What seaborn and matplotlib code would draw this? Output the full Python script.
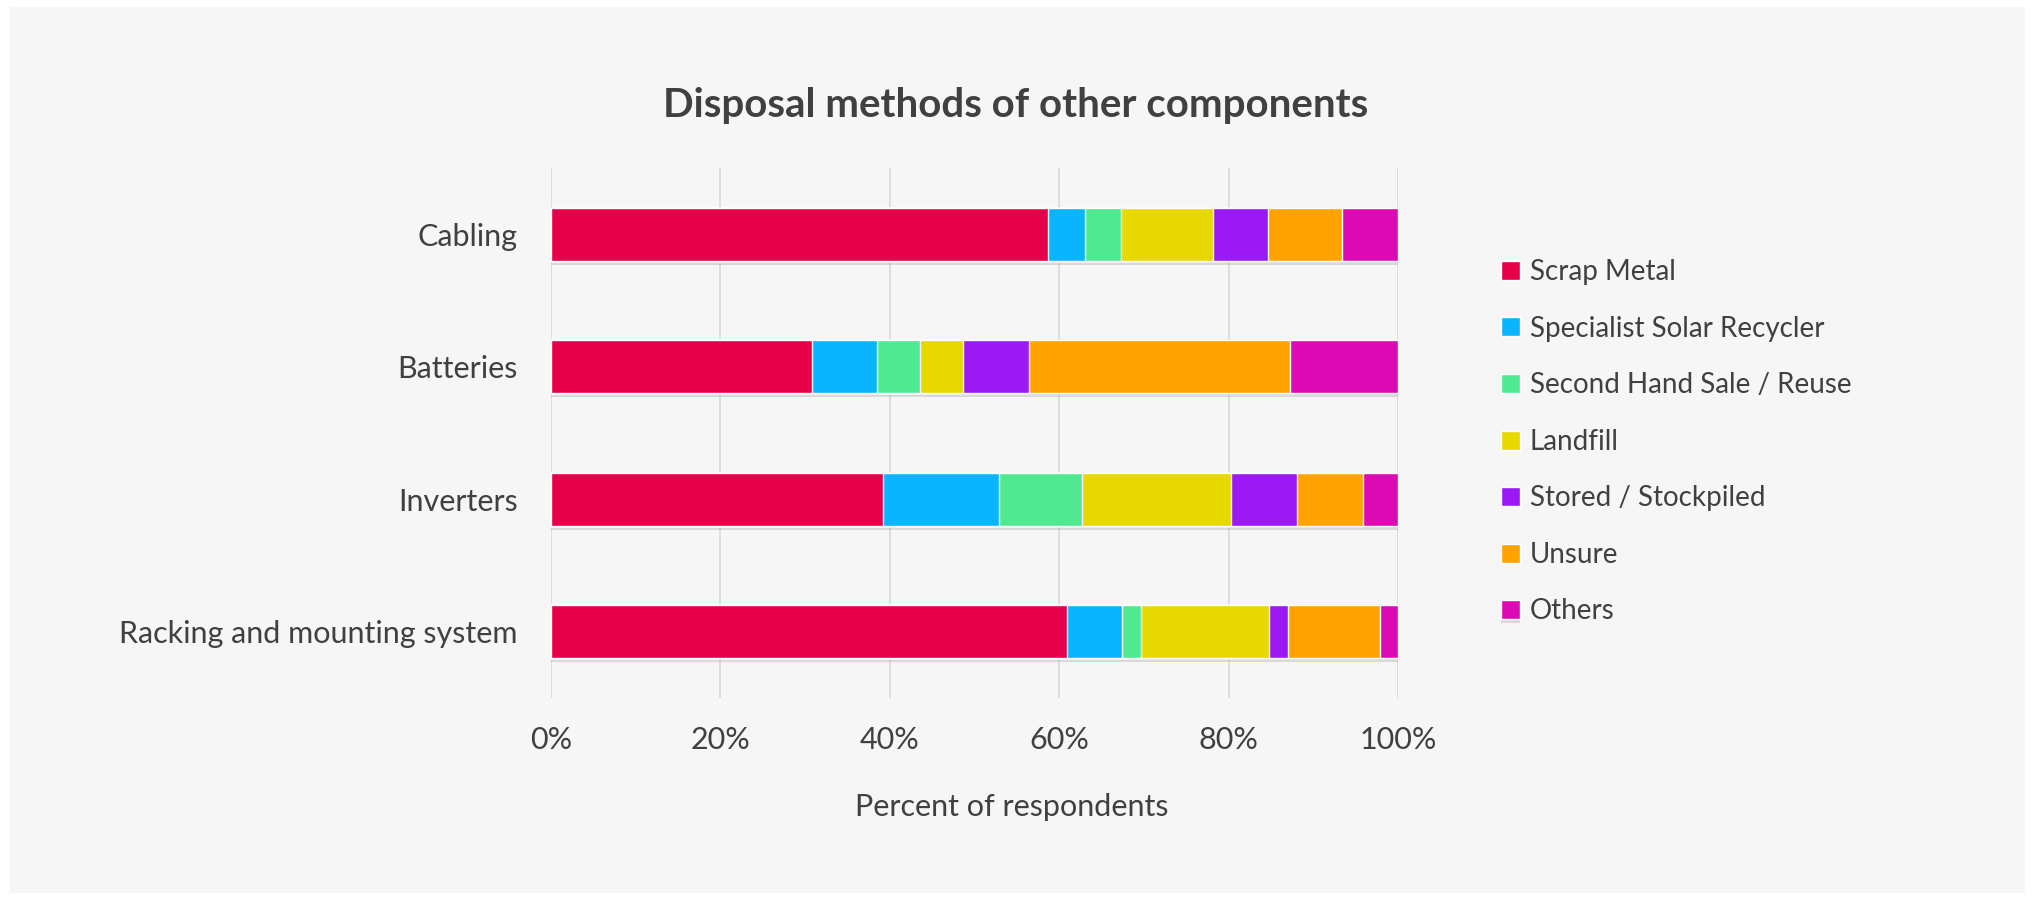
import matplotlib
matplotlib.use("Agg")
import matplotlib.pyplot as plt
import matplotlib.patheffects as pe
from matplotlib.patches import Rectangle
import seaborn as sns
import pandas as pd
import numpy as np

# data (percent of respondents)
components = ["Cabling", "Batteries", "Inverters", "Racking and mounting system"]
methods = ["Scrap Metal", "Specialist Solar Recycler", "Second Hand Sale / Reuse",
           "Landfill", "Stored / Stockpiled", "Unsure", "Others"]
scrap_metal = [58.7, 30.8, 39.2, 60.9]
specialist = [4.3, 7.7, 13.7, 6.5]
second_hand = [4.3, 5.1, 9.8, 2.2]
landfill = [10.9, 5.1, 17.6, 15.2]
stored = [6.5, 7.7, 7.8, 2.2]
unsure = [8.7, 30.8, 7.8, 10.9]
others = [6.6, 12.8, 4.1, 2.1]
colors = ["#e60049", "#0bb4ff", "#50e991", "#e6d800", "#9b19f5", "#ffa300", "#dc0ab4"]

df = pd.DataFrame({"component": components})
series = [scrap_metal, specialist, second_hand, landfill, stored, unsure, others]
for m, s in zip(methods, series):
    df[m] = s
cum = df[methods].cumsum(axis=1)
cum["component"] = components

sns.set_theme(style="white")
plt.rcParams["font.family"] = ["Lato", "DejaVu Sans"]
text_col = "#404040"

fig = plt.figure(figsize=(20.35, 9), dpi=100)
fig.patch.set_facecolor("white")
fig.add_artist(Rectangle((10 / 2035, 7 / 900), 2015 / 2035, 886 / 900,
                         transform=fig.transFigure, facecolor="#f6f6f6",
                         edgecolor="none", zorder=0))

ax = fig.add_axes([551 / 2035, 1 - 698 / 900, 847 / 2035, 530 / 900])
ax.set_facecolor("none")

# stacked bars: draw cumulative totals from the largest down
for i in range(len(methods) - 1, -1, -1):
    sns.barplot(data=cum, x=methods[i], y="component", order=components,
                color=colors[i], width=0.4, orient="h", ax=ax,
                saturation=1, label=methods[i])
    if i == len(methods) - 1:
        for p in ax.patches:
            p.set_path_effects([pe.SimplePatchShadow(offset=(0, -3), shadow_rgbFace="#999999", alpha=0.3),
                                pe.Normal()])

ax.set_xlim(0, 100)
ax.set_ylim(3.5, -0.5)
ax.set_xticks(np.arange(0, 101, 20))
ax.set_xticklabels([f"{v}%" for v in range(0, 101, 20)])
ax.xaxis.grid(True, color="#d9d9d9", linewidth=1.2)
ax.set_axisbelow(True)
for sp in ax.spines.values():
    sp.set_visible(False)
ax.tick_params(axis="both", length=0, labelsize=22, colors=text_col)
ax.tick_params(axis="y", pad=24)
ax.tick_params(axis="x", pad=20)
ax.set_ylabel("")
ax.set_xlabel("")

fig.text(1012 / 2035, 1 - 807 / 900, "Percent of respondents", ha="center", va="center",
         fontsize=22, color=text_col)
fig.text(1016 / 2035, 1 - 106 / 900, "Disposal methods of other components", ha="center",
         va="center", fontsize=29, fontweight="bold", color=text_col)

handles, labels = ax.get_legend_handles_labels()
order = [labels.index(m) for m in methods]
leg = ax.legend([handles[k] for k in order], methods, loc="upper left",
                bbox_to_anchor=(1490 / 2035, 1 - 248 / 900), bbox_transform=fig.transFigure,
                frameon=False, fontsize=20, handlelength=0.68, handleheight=0.68,
                handletextpad=0.35, labelspacing=1.1, borderaxespad=0)
for t in leg.get_texts():
    t.set_color(text_col)

fig.savefig("out.png", dpi=100, facecolor=fig.get_facecolor())
